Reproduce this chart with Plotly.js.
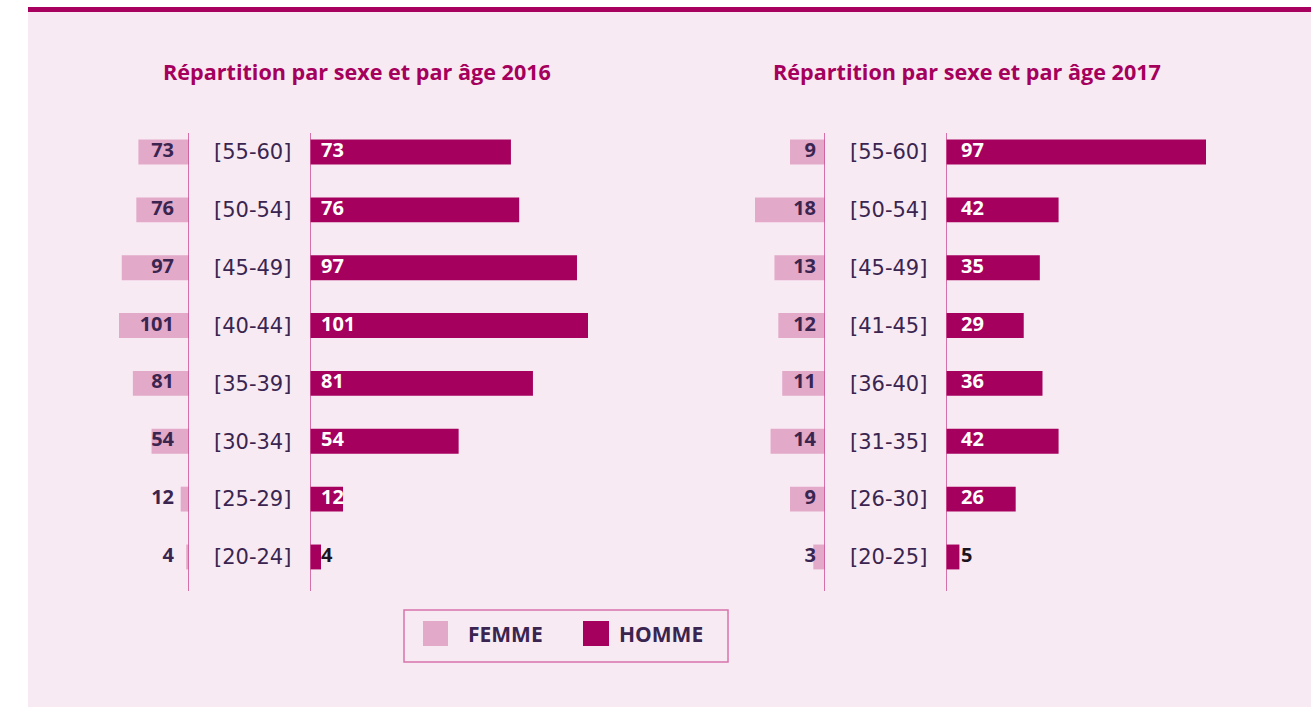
<!DOCTYPE html>
<html>
<head>
<meta charset="utf-8">
<script src="https://cdn.plot.ly/plotly-3.0.1.min.js"></script>
<style>html,body{margin:0;padding:0;background:#fff;}#chart{width:1316px;height:707px;}</style>
</head>
<body>
<div id="chart"></div>
<script>
// ---- data ----
const ages2016 = ['[55-60]','[50-54]','[45-49]','[40-44]','[35-39]','[30-34]','[25-29]','[20-24]'];
const femme2016 = [73, 76, 97, 101, 81, 54, 12, 4];
const homme2016 = [73, 76, 97, 101, 81, 54, 12, 4];
const ages2017 = ['[55-60]','[50-54]','[45-49]','[41-45]','[36-40]','[31-35]','[26-30]','[20-25]'];
const femme2017 = [9, 18, 13, 12, 11, 14, 9, 3];
const homme2017 = [97, 42, 35, 29, 36, 42, 26, 5];
const title2016 = 'Répartition par sexe et par âge 2016';
const title2017 = 'Répartition par sexe et par âge 2017';
const legendLabels = ['FEMME', 'HOMME'];

// ---- styling ----
const W = 1316, H = 707;
const fx = p => p / W;
const fy = p => 1 - p / H;
const C_F = '#e2a9c9', C_H = '#a6005e', C_TITLE = '#a5005c';
const C_TXT = '#3a2550', C_LINE = '#cc5296', C_BG = '#f8eaf3';
const NUMFONT = 'Open Sans, sans-serif';

// panel geometry (pixels)
const P = {
  f16: {l: 99, r: 189, maxPx: 70},
  h16: {l: 310, r: 640, maxPx: 278},
  f17: {l: 735, r: 825, maxPx: 70},
  h17: {l: 946, r: 1280, maxPx: 260}
};
function rangeMax(vals, g) { return Math.max(...vals) * (g.r - g.l) / g.maxPx; }
const R = {
  f16: rangeMax(femme2016, P.f16), h16: rangeMax(homme2016, P.h16),
  f17: rangeMax(femme2017, P.f17), h17: rangeMax(homme2017, P.h17)
};
// convert pixel offset from the axis zero to data units
function off(px, key) { return px * R[key] / (P[key].r - P[key].l); }

const rowTop = 123.07, rowBot = 585.9;

function bar(x, y, color, xa, ya) {
  return {type: 'bar', orientation: 'h', x: x, y: y, xaxis: xa, yaxis: ya,
    marker: {color: color, line: {width: 0}}, width: 0.43, hoverinfo: 'skip', showlegend: false};
}
function labels(vals, y, xpos, pos, colors, xa, ya) {
  return {type: 'scatter', mode: 'text', x: y.map(() => xpos), y: y, text: vals.map(String),
    textposition: pos, xaxis: xa, yaxis: ya, cliponaxis: false, hoverinfo: 'skip', showlegend: false,
    textfont: {family: NUMFONT, size: 20, weight: 700, color: colors}};
}
const homColors = v => v.map(d => d >= 10 ? '#ffffff' : '#1c1420');

const data = [
  bar(femme2016, ages2016, C_F, 'x', 'y'),
  bar(homme2016, ages2016, C_H, 'x2', 'y'),
  bar(femme2017, ages2017, C_F, 'x3', 'y2'),
  bar(homme2017, ages2017, C_H, 'x4', 'y2'),
  labels(femme2016, ages2016, off(15, 'f16'), 'middle left', C_TXT, 'x', 'y'),
  labels(homme2016, ages2016, off(11, 'h16'), 'middle right', homColors(homme2016), 'x2', 'y'),
  labels(femme2017, ages2017, off(9, 'f17'), 'middle left', C_TXT, 'x3', 'y2'),
  labels(homme2017, ages2017, off(15, 'h17'), 'middle right', homColors(homme2017), 'x4', 'y2')
];

const hiddenX = (g, rng, anchor) => ({domain: [fx(g.l), fx(g.r)], range: rng, anchor: anchor,
  visible: false, fixedrange: true});
const catY = (cats, posPx) => ({
  type: 'category', categoryorder: 'array', categoryarray: cats,
  range: [cats.length - 0.5, -0.5], domain: [fy(rowBot), fy(rowTop)],
  anchor: 'free', position: fx(posPx), side: 'right', showline: false, showgrid: false,
  zeroline: false, ticks: '', fixedrange: true,
  tickfont: {family: 'DejaVu Sans, sans-serif', size: 21, color: C_TXT}
});

const vline = (xref) => ({type: 'line', xref: xref, yref: 'paper', x0: 0, x1: 0,
  y0: fy(591), y1: fy(133), line: {color: C_LINE, width: 1.6}, layer: 'above'});

const layout = {
  width: W, height: H, margin: {l: 0, r: 0, t: 0, b: 0},
  paper_bgcolor: '#ffffff', plot_bgcolor: 'rgba(0,0,0,0)', showlegend: false,
  bargap: 0.57,
  xaxis: hiddenX(P.f16, [R.f16, 0], 'y'),
  xaxis2: hiddenX(P.h16, [0, R.h16], 'y'),
  xaxis3: hiddenX(P.f17, [R.f17, 0], 'y2'),
  xaxis4: hiddenX(P.h17, [0, R.h17], 'y2'),
  yaxis: catY(ages2016, 213),
  yaxis2: catY(ages2017, 849),
  shapes: [
    {type: 'rect', xref: 'paper', yref: 'paper', x0: fx(28), x1: fx(1311), y0: 0, y1: fy(12),
      fillcolor: C_BG, line: {width: 0}, layer: 'below'},
    {type: 'rect', xref: 'paper', yref: 'paper', x0: fx(28), x1: fx(1311), y0: fy(12), y1: fy(7),
      fillcolor: '#a8005f', line: {width: 0}, layer: 'below'},
    vline('x'), vline('x2'), vline('x3'), vline('x4'),
    {type: 'rect', xref: 'paper', yref: 'paper', x0: fx(404), x1: fx(728), y0: fy(662), y1: fy(610),
      line: {color: '#d873ac', width: 1.5}, fillcolor: 'rgba(0,0,0,0)'},
    {type: 'rect', xref: 'paper', yref: 'paper', x0: fx(423), x1: fx(448), y0: fy(646), y1: fy(621),
      line: {width: 0}, fillcolor: C_F},
    {type: 'rect', xref: 'paper', yref: 'paper', x0: fx(583), x1: fx(609), y0: fy(646), y1: fy(621),
      line: {width: 0}, fillcolor: C_H}
  ],
  annotations: [
    {xref: 'paper', yref: 'paper', x: fx(357), y: fy(72), text: title2016, showarrow: false,
      xanchor: 'center', yanchor: 'middle', font: {family: NUMFONT, size: 21.6, weight: 700, color: C_TITLE}},
    {xref: 'paper', yref: 'paper', x: fx(967), y: fy(72), text: title2017, showarrow: false,
      xanchor: 'center', yanchor: 'middle', font: {family: NUMFONT, size: 21.6, weight: 700, color: C_TITLE}},
    {xref: 'paper', yref: 'paper', x: fx(466), y: fy(634), text: legendLabels[0], showarrow: false,
      xanchor: 'left', yanchor: 'middle', font: {family: NUMFONT, size: 21, weight: 700, color: C_TXT}},
    {xref: 'paper', yref: 'paper', x: fx(617), y: fy(634), text: legendLabels[1], showarrow: false,
      xanchor: 'left', yanchor: 'middle', font: {family: NUMFONT, size: 21, weight: 700, color: C_TXT}}
  ]
};

Plotly.newPlot('chart', data, layout, {displayModeBar: false, staticPlot: true});
</script>
</body>
</html>
